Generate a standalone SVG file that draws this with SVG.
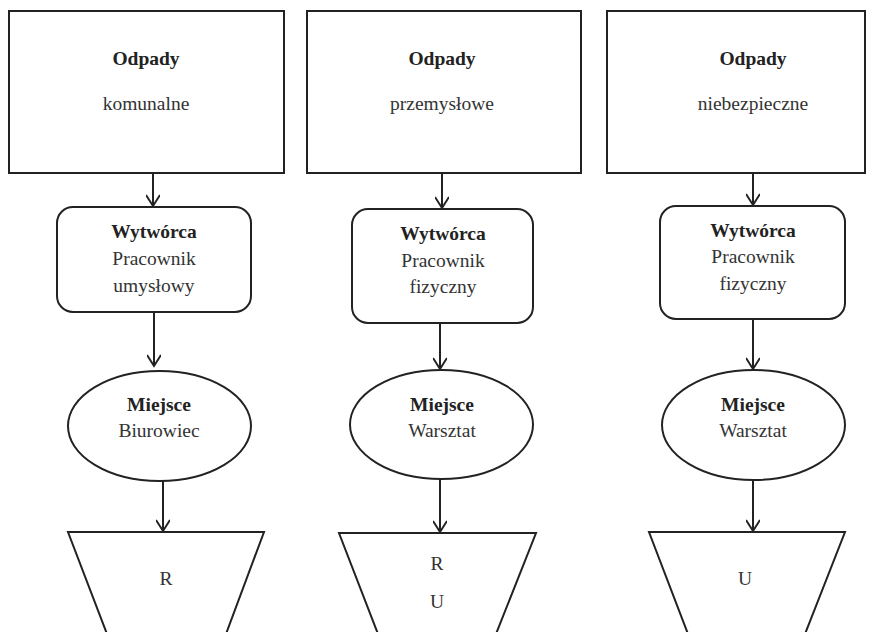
<svg xmlns="http://www.w3.org/2000/svg" width="873" height="632" viewBox="0 0 873 632">
<defs>
<style>
.s{fill:#fff;stroke:#222;stroke-width:2}
.t{font-family:"Liberation Serif","Times New Roman",serif;font-size:19.5px;fill:#333;text-anchor:middle}
.b{font-weight:bold;fill:#222}
.c{stroke:#222;stroke-width:2;fill:none}
</style>
<marker id="ah" markerWidth="14" markerHeight="14" refX="12" refY="7" orient="auto" markerUnits="userSpaceOnUse">
<path d="M1,0 L12,7 L1,14" fill="none" stroke="#222" stroke-width="2"/>
</marker>
</defs>
<rect width="873" height="632" fill="#fff"/>
<g id="connectors">
<line class="c" x1="153" y1="173" x2="153" y2="206" marker-end="url(#ah)"/>
<line class="c" x1="154" y1="312" x2="154" y2="366" marker-end="url(#ah)"/>
<line class="c" x1="163" y1="481" x2="163" y2="531" marker-end="url(#ah)"/>
<line class="c" x1="442" y1="173" x2="442" y2="208" marker-end="url(#ah)"/>
<line class="c" x1="440" y1="323" x2="440" y2="369" marker-end="url(#ah)"/>
<line class="c" x1="440" y1="479" x2="440" y2="532" marker-end="url(#ah)"/>
<line class="c" x1="753" y1="173" x2="753" y2="205" marker-end="url(#ah)"/>
<line class="c" x1="753" y1="319" x2="753" y2="369" marker-end="url(#ah)"/>
<line class="c" x1="753" y1="480" x2="753" y2="531" marker-end="url(#ah)"/>
</g>
<g id="odpady-komunalne">
<rect class="s" x="9" y="11" width="275" height="162"/>
<text class="t b" x="146" y="65">Odpady</text>
<text class="t" x="146" y="110">komunalne</text>
</g>
<g id="odpady-przemyslowe">
<rect class="s" x="307" y="11" width="274" height="162"/>
<text class="t b" x="442" y="65">Odpady</text>
<text class="t" x="442" y="110">przemysłowe</text>
</g>
<g id="odpady-niebezpieczne">
<rect class="s" x="607" y="11" width="258" height="162"/>
<text class="t b" x="753" y="65">Odpady</text>
<text class="t" x="753" y="110">niebezpieczne</text>
</g>
<g id="wytworca-1">
<rect class="s" x="57" y="207" width="194" height="105" rx="16" ry="16"/>
<text class="t b" x="154" y="238">Wytwórca</text>
<text class="t" x="154" y="265">Pracownik</text>
<text class="t" x="154" y="292">umysłowy</text>
</g>
<g id="wytworca-2">
<rect class="s" x="352" y="209" width="181" height="114" rx="16" ry="16"/>
<text class="t b" x="443" y="240">Wytwórca</text>
<text class="t" x="443" y="267">Pracownik</text>
<text class="t" x="443" y="293">fizyczny</text>
</g>
<g id="wytworca-3">
<rect class="s" x="660" y="206" width="185" height="113" rx="16" ry="16"/>
<text class="t b" x="753" y="237">Wytwórca</text>
<text class="t" x="753" y="263">Pracownik</text>
<text class="t" x="753" y="290">fizyczny</text>
</g>
<g id="miejsce-1">
<ellipse class="s" cx="159.5" cy="426" rx="91.5" ry="55"/>
<text class="t b" x="159" y="411">Miejsce</text>
<text class="t" x="159" y="437">Biurowiec</text>
</g>
<g id="miejsce-2">
<ellipse class="s" cx="441.5" cy="424.5" rx="91.5" ry="54.5"/>
<text class="t b" x="442" y="411">Miejsce</text>
<text class="t" x="442" y="437">Warsztat</text>
</g>
<g id="miejsce-3">
<ellipse class="s" cx="753.5" cy="425" rx="91.5" ry="55"/>
<text class="t b" x="753" y="411">Miejsce</text>
<text class="t" x="753" y="437">Warsztat</text>
</g>
<g id="trap-1">
<polygon class="s" points="68,532 264,532 226,634 107,634"/>
<text class="t" x="166" y="585">R</text>
</g>
<g id="trap-2">
<polygon class="s" points="339,533 536,533 496,634 378,634"/>
<text class="t" x="437" y="570">R</text>
<text class="t" x="437" y="608">U</text>
</g>
<g id="trap-3">
<polygon class="s" points="649,532 845,532 805,634 688,634"/>
<text class="t" x="745" y="585">U</text>
</g>
</svg>
